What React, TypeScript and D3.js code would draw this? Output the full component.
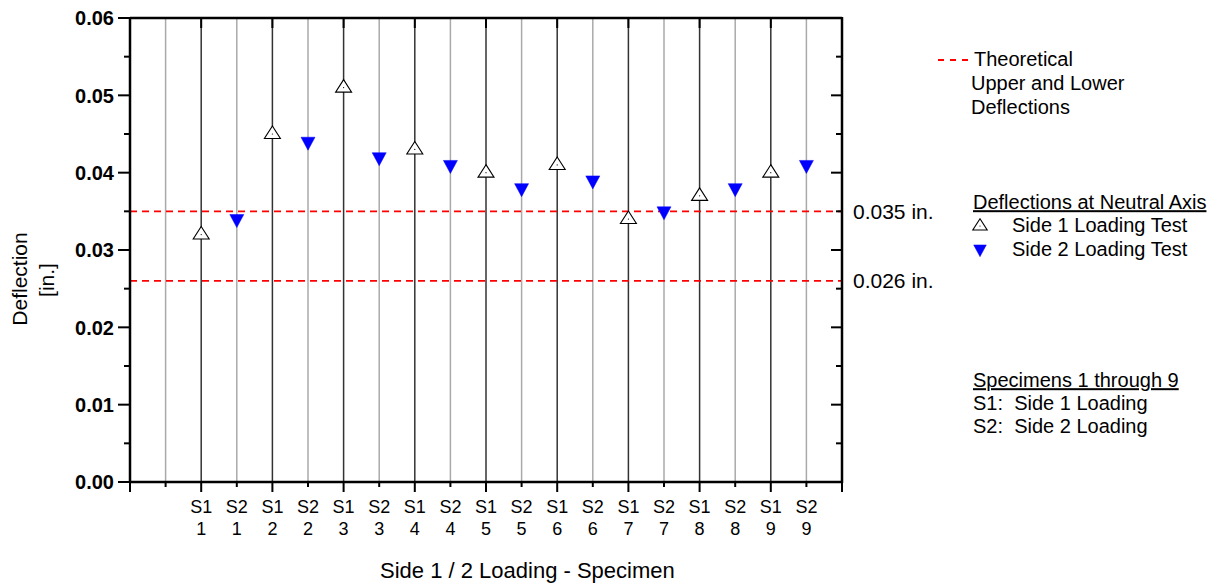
import React from "react";
import * as d3 from "d3";

// Specimen results: deflection at the neutral axis [in.]
const specimens = ["1", "2", "3", "4", "5", "6", "7", "8", "9"];
const sides = ["S1", "S2"];
const side1Values = [0.032, 0.045, 0.051, 0.043, 0.04, 0.041, 0.034, 0.037, 0.04];
const side2Values = [0.034, 0.044, 0.042, 0.041, 0.038, 0.039, 0.035, 0.038, 0.041];
const theoreticalLimits = [0.035, 0.026];
const theoreticalLabels = ["0.035 in.", "0.026 in."];
const yMajorTicks = [0, 0.01, 0.02, 0.03, 0.04, 0.05, 0.06];
const yMinorTicks = [0.005, 0.015, 0.025, 0.035, 0.045, 0.055];

const W = 1215;
const H = 587;
const M = { left: 130, right: 842, top: 18, bottom: 482 };
const FONT = "'Liberation Sans', Arial, Helvetica, sans-serif";

// slot keys along the x axis: two empty leading slots, S1/S2 pairs, trailing end
const slots: string[] = ["start", "gap"];
specimens.forEach((s) => sides.forEach((side) => slots.push(`${side}-${s}`)));
slots.push("end");

export default function App() {
  const x = d3.scalePoint<string>().domain(slots).range([M.left, M.right]).padding(0);
  const y = d3.scaleLinear().domain([0, 0.06]).range([M.bottom, M.top]);

  const s1Points = specimens.map((s, i) => ({ cx: x(`S1-${s}`)!, cy: y(side1Values[i]) }));
  const s2Points = specimens.map((s, i) => ({ cx: x(`S2-${s}`)!, cy: y(side2Values[i]) }));

  const upTri = (cx: number, cy: number, s = 1) =>
    `M${cx},${cy - 8 * s}L${cx + 8 * s},${cy + 4.5 * s}L${cx - 8 * s},${cy + 4.5 * s}Z`;
  const downTri = (cx: number, cy: number, s = 1) =>
    `M${cx - 7 * s},${cy - 4.5 * s}L${cx + 7 * s},${cy - 4.5 * s}L${cx},${cy + 8.5 * s}Z`;

  const axisW = 2.5;
  const legendX = 971;
  const legendFont = 20;
  const red = "#ff0000";

  return (
    <svg
      width={W}
      height={H}
      style={{ position: "absolute", left: 0, top: 0, background: "#fff" }}
      fontFamily={FONT}
    >
      {/* vertical drop lines at each slot */}
      {slots.slice(1, -1).map((k) => (
        <line
          key={k}
          x1={x(k)}
          x2={x(k)}
          y1={M.top}
          y2={M.bottom}
          stroke={k.startsWith("S1") ? "#333" : "#aaa"}
          strokeWidth={1.5}
        />
      ))}

      {/* theoretical upper and lower deflections */}
      {theoreticalLimits.map((v) => (
        <line
          key={v}
          x1={M.left}
          x2={M.right}
          y1={y(v)}
          y2={y(v)}
          stroke={red}
          strokeWidth={1.8}
          strokeDasharray="7,5"
        />
      ))}

      {/* frame */}
      <line x1={M.left} x2={M.right} y1={M.top} y2={M.top} stroke="#000" strokeWidth={axisW} />
      <line x1={M.left} x2={M.right} y1={M.bottom} y2={M.bottom} stroke="#000" strokeWidth={axisW} />
      <line x1={M.left} x2={M.left} y1={M.top - 1} y2={M.bottom + 1} stroke="#000" strokeWidth={axisW} />
      <line x1={M.right} x2={M.right} y1={M.top - 1} y2={M.bottom + 1} stroke="#000" strokeWidth={axisW} />

      {/* left axis ticks and labels, mirrored inner ticks on the right */}
      {yMajorTicks.map((t) => (
        <g key={`ly${t}`}>
          <line x1={M.left - 12} x2={M.left} y1={y(t)} y2={y(t)} stroke="#000" strokeWidth={2} />
          <line x1={M.right - 11} x2={M.right} y1={y(t)} y2={y(t)} stroke="#000" strokeWidth={2} />
          <text
            x={M.left - 16}
            y={y(t)}
            dy="0.36em"
            textAnchor="end"
            fontSize={20}
            fontWeight="bold"
          >
            {d3.format(".2f")(t)}
          </text>
        </g>
      ))}
      {yMinorTicks.map((t) => (
        <g key={`my${t}`}>
          <line x1={M.left - 6} x2={M.left} y1={y(t)} y2={y(t)} stroke="#000" strokeWidth={2} />
          <line x1={M.right - 6} x2={M.right} y1={y(t)} y2={y(t)} stroke="#000" strokeWidth={2} />
        </g>
      ))}

      {/* bottom and top ticks */}
      {slots.map((k, i) => {
        const major = i % 2 === 0;
        return (
          <g key={`xt${k}`}>
            <line
              x1={x(k)}
              x2={x(k)}
              y1={M.bottom}
              y2={M.bottom + (major ? 10 : 5)}
              stroke="#000"
              strokeWidth={2}
            />
            {major && (
              <line x1={x(k)} x2={x(k)} y1={M.top} y2={M.top + 10} stroke="#000" strokeWidth={2} />
            )}
          </g>
        );
      })}

      {/* category labels */}
      {slots.slice(2, -1).map((k) => {
        const [side, spec] = k.split("-");
        return (
          <text key={`xl${k}`} x={x(k)} textAnchor="middle" fontSize={18}>
            <tspan x={x(k)} y={513}>
              {side}
            </tspan>
            <tspan x={x(k)} y={535}>
              {spec}
            </tspan>
          </text>
        );
      })}

      {/* axis titles */}
      <text x={380} y={578} textAnchor="start" fontSize={22}>
        Side 1 / 2 Loading - Specimen
      </text>
      <text transform={`translate(27,279) rotate(-90)`} textAnchor="middle" fontSize={21}>
        Deflection
      </text>
      <text transform={`translate(54,280) rotate(-90)`} textAnchor="middle" fontSize={21}>
        [in.]
      </text>

      {/* markers */}
      {s1Points.map((p, i) => (
        <g key={`s1${i}`}>
          <path d={upTri(p.cx, p.cy)} fill="#fff" stroke="#000" strokeWidth={1.1} />
          <circle cx={p.cx} cy={p.cy} r={0.6} fill="#000" />
        </g>
      ))}
      {s2Points.map((p, i) => (
        <path key={`s2${i}`} d={downTri(p.cx, p.cy)} fill="#0000ff" stroke="#0000ff" strokeWidth={0.5} />
      ))}

      {/* theoretical limit labels */}
      {theoreticalLimits.map((v, i) => (
        <text key={`tl${v}`} x={853} y={y(v)} dy="0.36em" fontSize={21}>
          {theoreticalLabels[i]}
        </text>
      ))}

      {/* legend: theoretical lines */}
      <line x1={938} x2={968} y1={60} y2={60} stroke={red} strokeWidth={1.8} strokeDasharray="6,6" />
      <text x={974} y={59} dy="0.36em" fontSize={legendFont}>Theoretical</text>
      <text x={legendX} y={83} dy="0.36em" fontSize={legendFont}>Upper and Lower</text>
      <text x={legendX} y={107} dy="0.36em" fontSize={legendFont}>Deflections</text>

      {/* legend: markers */}
      <text x={973} y={202} dy="0.36em" fontSize={legendFont} textDecoration="underline">
        Deflections at Neutral Axis
      </text>
      <path d={upTri(980, 226, 0.9)} fill="#fff" stroke="#000" strokeWidth={1.1} />
      <circle cx={980} cy={226} r={0.6} fill="#000" />
      <text x={1012} y={225} dy="0.36em" fontSize={legendFont}>Side 1 Loading Test</text>
      <path d={downTri(980, 249, 0.9)} fill="#0000ff" stroke="#0000ff" strokeWidth={0.5} />
      <text x={1012} y={249} dy="0.36em" fontSize={legendFont}>Side 2 Loading Test</text>

      {/* legend: specimen notation */}
      <text x={973} y={380} dy="0.36em" fontSize={legendFont} textDecoration="underline">
        Specimens 1 through 9
      </text>
      <text x={973} y={403} dy="0.36em" fontSize={legendFont} style={{ whiteSpace: "pre" }}>
        {"S1:  Side 1 Loading"}
      </text>
      <text x={973} y={426} dy="0.36em" fontSize={legendFont} style={{ whiteSpace: "pre" }}>
        {"S2:  Side 2 Loading"}
      </text>
    </svg>
  );
}
